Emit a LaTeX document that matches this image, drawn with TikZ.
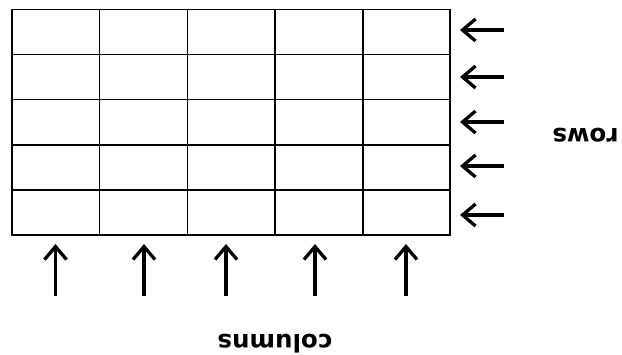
\documentclass[tikz,border=0pt]{standalone}
\usepackage{fontspec}
\newfontfamily\labelfont{DejaVu Sans}
\usetikzlibrary{arrows.meta}
\tikzset{
  gridline/.style={line width=1.2pt, black},
  pointer/.style={line width=3.3pt, line cap=butt,
    -{Straight Barb[length=13pt,width=22pt,line width=3.3pt]}},
  flipped/.style={rotate=180, anchor=base, inner sep=0pt,
    font=\labelfont\bfseries\fontsize{24.5}{28}\selectfont}
}
\begin{document}
\begin{tikzpicture}[x=1pt,y=-1pt]
  \useasboundingbox (0,0) rectangle (622,354);
  % 5 x 5 grid
  \draw[gridline] (12,9.5) rectangle (450,235);
  \foreach \gx in {99.5,187.5,275,363}
    \draw[gridline] (\gx,9.5) -- (\gx,235);
  \foreach \gy in {54.5,99.5,145,190}
    \draw[gridline] (12,\gy) -- (450,\gy);
  % row pointers on the right
  \foreach \i/\ry in {1/30,2/77,3/122,4/166,5/215}{
    \coordinate (rtail\i) at (504,\ry);
    \coordinate (rtip\i) at (460,\ry);
    \draw[pointer] (rtail\i) -- (rtip\i);
  }
  % column pointers below
  \foreach \i/\cx in {1/55.5,2/144,3/226,4/315,5/406}{
    \coordinate (ctail\i) at (\cx,296);
    \coordinate (ctip\i) at (\cx,244);
    \draw[pointer] (ctail\i) -- (ctip\i);
  }
  % labels, printed upside down
  \node[flipped] (rowslabel) at (585.5,128) {rows};
  \node[flipped] (colslabel) at (275,334) {columns};
\end{tikzpicture}
\end{document}
